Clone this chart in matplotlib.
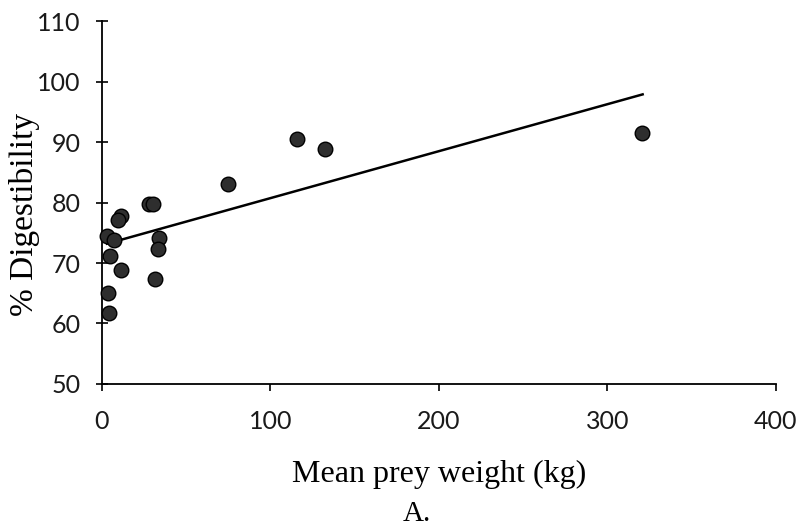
import matplotlib
matplotlib.use("Agg")
import matplotlib.pyplot as plt

# data
prey_weight = [320.5, 115.5, 132.5, 75, 28, 30, 11, 9.5, 3, 7, 34, 33, 5, 11, 31.5, 3.5, 4]
digestibility = [91.5, 90.5, 88.8, 83.1, 79.8, 79.8, 77.8, 77.2, 74.4, 73.8, 74.1, 72.3, 71.2, 68.8, 67.4, 65.0, 61.7]

trend_x = [3, 321]
trend_y = [73.2, 97.9]

x_ticks = [0, 100, 200, 300, 400]
y_ticks = [50, 60, 70, 80, 90, 100, 110]

fig = plt.figure(figsize=(8.03, 5.31), dpi=100)
ax = fig.add_axes([0.127, 0.277, 0.839, 0.683])

ax.plot(trend_x, trend_y, color="black", lw=1.8, zorder=2)
ax.scatter(prey_weight, digestibility, s=110, color="#2e2e2e",
           edgecolor="black", linewidth=1.0, zorder=3, clip_on=False)

ax.set_xlim(0, 400)
ax.set_ylim(50, 110)
ax.set_xticks(x_ticks)
ax.set_yticks(y_ticks)

for side in ("top", "right"):
    ax.spines[side].set_visible(False)
for side in ("left", "bottom"):
    ax.spines[side].set_linewidth(1.3)

ax.tick_params(axis="y", direction="inout", length=9, width=1.2, pad=11)
ax.tick_params(axis="x", direction="out", length=5, width=1.2, pad=14)
for lab in ax.get_xticklabels() + ax.get_yticklabels():
    lab.set_fontfamily("Lato")
    lab.set_fontsize(18)
    lab.set_color("#1a1a1a")

ax.set_ylabel("% Digestibility", fontfamily="Liberation Serif", fontsize=24)
ax.yaxis.set_label_coords(-0.092, 0.468)
ax.set_xlabel("Mean prey weight (kg)", fontfamily="Liberation Serif", fontsize=23, labelpad=19)
fig.text(0.519, 0.018, "A.", fontfamily="Liberation Serif", fontsize=21, ha="center",
         va="baseline")

fig.savefig("out.png", dpi=100)
